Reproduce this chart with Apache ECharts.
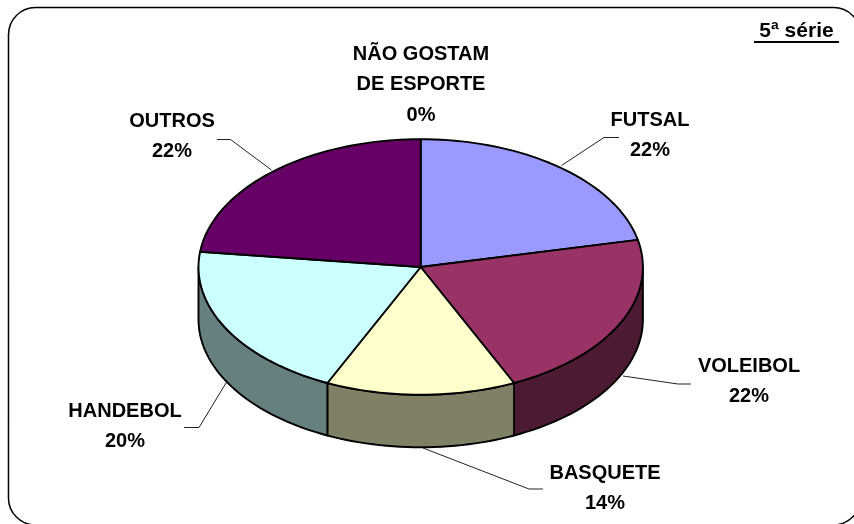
<!DOCTYPE html>
<html>
<head>
<meta charset="utf-8">
<style>html,body{margin:0;padding:0;background:#fff}#main{width:854px;height:524px}</style>
<script src="https://cdn.jsdelivr.net/npm/echarts@6/dist/echarts.min.js"></script>
</head>
<body>
<div id="main"></div>
<script>
// valores
var categories = ['FUTSAL', 'VOLEIBOL', 'BASQUETE', 'HANDEBOL', 'OUTROS', 'NÃO GOSTAM\nDE ESPORTE'];
// fatias medidas na figura (a perspectiva do 3D desloca um pouco os angulos)
var sliceValues = [21.6, 21.5, 13.8, 20.0, 23.1, 0];
var percentLabels = ['22%', '22%', '14%', '20%', '22%', '0%'];
var topColors = ['#9999FF', '#993366', '#FFFFCC', '#CCFFFF', '#660066', '#660066'];
var sideColors = ['#4D4D80', '#4D1A33', '#808066', '#668080', '#330033', '#330033'];

// geometria da pizza
var cx = 420.7, cy = 267, rx = 222.2, ry = 127.8, depth = 52.5;
// onde fica cada rotulo [x do centro, y da primeira linha] e a linha guia
var labelPos = [[650, 120], [749, 366], [605, 473], [125, 411], [172, 121], [421, 54]];
var leaders = [
    [[619, 137.5], [604, 137.5], [561.5, 165.5]],
    [[623, 376], [678, 384], [691, 384]],
    [[423, 448], [529, 489], [543, 489]],
    [[184, 427.5], [199, 427.5], [226, 383]],
    [[217, 139.5], [230.5, 139.5], [271.5, 170]],
    []
];

var font = 'bold 20px "Liberation Sans", Arial, sans-serif';

function point(pct, dy) {
    var a = pct / 100 * Math.PI * 2;
    return [cx + rx * Math.sin(a), cy - ry * Math.cos(a) + (dy || 0)];
}
function arc(from, to, dy) {
    var pts = [], n = Math.max(2, Math.ceil((to - from) * 2));
    for (var i = 0; i <= n; i++) {
        pts.push(point(from + (to - from) * i / n, dy));
    }
    return pts;
}

var rows = [], acc = 0;
for (var i = 0; i < sliceValues.length; i++) {
    rows.push([acc, acc + sliceValues[i], i]);
    acc += sliceValues[i];
}

function renderTop(params, api) {
    var from = api.value(0), to = api.value(1), idx = api.value(2);
    if (to - from <= 0) return null;
    return {
        type: 'polygon',
        shape: {points: [[cx, cy]].concat(arc(from, to))},
        style: {fill: topColors[idx], stroke: '#000', lineWidth: 1.9, lineJoin: 'round'}
    };
}
function renderSide(params, api) {
    // so a metade da frente (25% a 75%) aparece
    var from = Math.max(api.value(0), 25), to = Math.min(api.value(1), 75), idx = api.value(2);
    if (to - from <= 0) return null;
    return {
        type: 'polygon',
        shape: {points: arc(from, to).concat(arc(from, to, depth).reverse())},
        style: {fill: sideColors[idx], stroke: '#000', lineWidth: 1.9, lineJoin: 'round'}
    };
}

var graphics = [{
    type: 'rect', z: 0,
    shape: {x: 8.5, y: 7.5, width: 852, height: 517.5, r: 27},
    style: {fill: '#fff', stroke: '#000', lineWidth: 1.5}
}];
leaders.forEach(function (l) {
    if (l.length) {
        graphics.push({type: 'polyline', z: 5, shape: {points: l}, style: {fill: null, stroke: '#222', lineWidth: 1}});
    }
});
categories.forEach(function (name, i) {
    var lines = name.split('\n').concat(percentLabels[i]);
    lines.forEach(function (t, j) {
        graphics.push({
            type: 'text', z: 6,
            style: {text: t, x: labelPos[i][0], y: labelPos[i][1] + j * 30.7, font: font, fill: '#000', align: 'center', verticalAlign: 'middle'}
        });
    });
});
graphics.push({type: 'text', z: 6, style: {text: '5ª série', x: 796.5, y: 31, font: 'bold 21px "Liberation Sans", Arial, sans-serif', fill: '#000', align: 'center', verticalAlign: 'middle'}});
graphics.push({type: 'line', z: 6, shape: {x1: 754, y1: 42, x2: 839, y2: 42}, style: {stroke: '#000', lineWidth: 2}});

var chart = echarts.init(document.getElementById('main'));
chart.setOption({
    animation: false,
    backgroundColor: '#fff',
    graphic: graphics,
    series: [
        {type: 'custom', coordinateSystem: 'none', z: 2, renderItem: renderSide, data: rows, silent: true},
        {type: 'custom', coordinateSystem: 'none', z: 3, renderItem: renderTop, data: rows, silent: true}
    ]
});
</script>
</body>
</html>
